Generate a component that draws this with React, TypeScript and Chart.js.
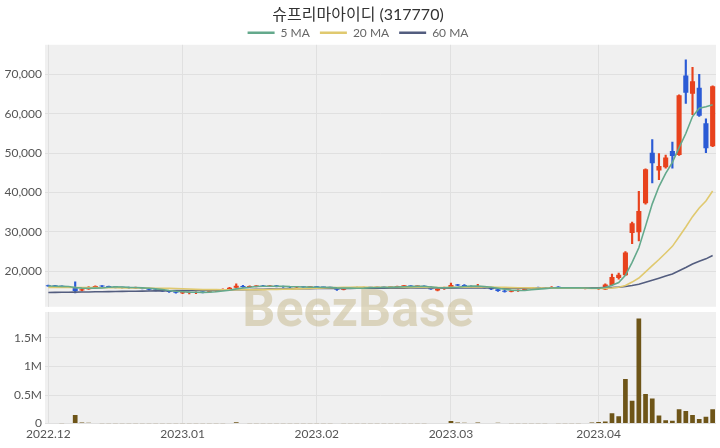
import React, { useEffect, useRef } from 'react';
import { Chart, registerables } from 'chart.js';

Chart.register(...registerables);

const TITLE = '슈프리마아이디 (317770)';
const WATERMARK = 'BeezBase';

// trading days
const DEC_DAYS = [2, 5, 6, 7, 8, 9, 12, 13, 14, 15, 16, 19, 20, 21, 22, 23, 26, 27, 28, 29];
const JAN_DAYS = [2, 3, 4, 5, 6, 9, 10, 11, 12, 13, 16, 17, 18, 19, 20, 25, 26, 27, 30, 31];
const FEB_DAYS = [1, 2, 3, 6, 7, 8, 9, 10, 13, 14, 15, 16, 17, 20, 21, 22, 23, 24, 27, 28];
const MAR_DAYS = [2, 3, 6, 7, 8, 9, 10, 13, 14, 15, 16, 17, 20, 21, 22, 23, 24, 27, 28, 29, 30, 31];
const APR_DAYS = [3, 4, 5, 6, 7, 10, 11, 12, 13, 14, 17, 18, 19, 20, 21, 24, 25, 26];

const pad = (n: number) => (n < 10 ? '0' + n : '' + n);
const DATES: string[] = [
  ...DEC_DAYS.map((d) => `2022-12-${pad(d)}`),
  ...JAN_DAYS.map((d) => `2023-01-${pad(d)}`),
  ...FEB_DAYS.map((d) => `2023-02-${pad(d)}`),
  ...MAR_DAYS.map((d) => `2023-03-${pad(d)}`),
  ...APR_DAYS.map((d) => `2023-04-${pad(d)}`),
];

const OPENS = [
  16400, 16300, 16200, 16050, 15900, 15100, 15400, 16000, 16200, 16100,
  16000, 15850, 15800, 15700, 15800, 15550, 15300, 15100, 14900, 14700,
  14400, 14500, 14450, 14700, 14650, 14900, 15200, 15400, 15800, 16200,
  16000, 16150, 16250, 16100, 16300, 16100, 16000, 15900, 16000, 15900,
  15950, 15900, 15850, 15800, 15300, 15700, 15850, 15750, 15900, 15800,
  15950, 15850, 16000, 16200, 16250, 16150, 16200, 16050, 15100, 15500,
  15900, 16500, 16400, 16250, 16000, 16100, 15800, 15400, 15000, 14800,
  15050, 15200, 15600, 15750, 15700, 15650, 16000, 15800, 15750, 15700,
  15650, 15700, 15500, 15350, 16500, 18300, 19000, 29700, 29900, 37250,
  50100, 45600, 46400, 50500, 49500, 69700, 65100, 66600, 57600, 51750,
];
const CLOSES = [
  16200, 16200, 16050, 15900, 15000, 15400, 16000, 16200, 16100, 16000,
  15850, 15800, 15750, 15900, 15550, 15300, 15100, 14900, 14700, 14550,
  14650, 14600, 14700, 14600, 14900, 15200, 15400, 15800, 16300, 16000,
  16200, 16250, 16150, 16300, 16100, 16000, 15900, 16000, 15900, 15950,
  15900, 15850, 15800, 15300, 15700, 15850, 15750, 15900, 15800, 15950,
  15850, 16000, 16200, 16250, 16150, 16200, 16050, 15400, 15500, 15900,
  16500, 16400, 16250, 16000, 16100, 15800, 15400, 15000, 14800, 15050,
  15200, 15600, 15750, 15700, 15650, 16000, 15800, 15750, 15700, 15650,
  15700, 15600, 15800, 16600, 18500, 19100, 24750, 32200, 35300, 45900,
  47400, 46750, 48900, 49250, 64700, 65300, 68250, 59500, 51200, 67000,
];
const HIGHS = [
  16500, 16400, 16300, 16150, 17300, 15500, 16100, 16300, 16350, 16250,
  16100, 16000, 15950, 16000, 15900, 15700, 15400, 15200, 15000, 14800,
  14750, 14700, 14750, 14800, 15000, 15250, 15500, 15900, 16800, 16400,
  16300, 16350, 16400, 16350, 16400, 16200, 16100, 16100, 16100, 16050,
  16100, 16000, 15950, 15850, 15800, 15900, 15950, 15950, 16000, 16000,
  16050, 16050, 16250, 16350, 16350, 16300, 16300, 16100, 15600, 16000,
  17000, 16700, 16600, 16300, 16700, 16150, 15900, 15500, 15200, 15150,
  15300, 15700, 15850, 16000, 15900, 16100, 16100, 15900, 15850, 15800,
  15800, 15850, 15900, 16800, 19250, 19500, 25000, 32500, 40300, 46000,
  53400, 49900, 49500, 52800, 64800, 73700, 71750, 70000, 58700, 67100,
];
const LOWS = [
  16150, 16100, 15950, 15800, 14500, 15000, 15350, 15900, 16000, 15900,
  15750, 15700, 15650, 15650, 15500, 15200, 15000, 14800, 14600, 14450,
  14300, 14250, 14300, 14500, 14600, 14850, 15100, 15350, 15750, 15900,
  15950, 16000, 16100, 16050, 16000, 15900, 15800, 15850, 15850, 15800,
  15800, 15750, 15700, 15150, 15250, 15600, 15700, 15700, 15750, 15750,
  15800, 15800, 15950, 16100, 16100, 16050, 16000, 15350, 15000, 15400,
  15800, 16300, 16200, 15950, 15950, 15700, 15300, 14900, 14700, 14750,
  14900, 15150, 15500, 15600, 15550, 15600, 15750, 15650, 15600, 15550,
  15500, 15550, 15400, 15300, 16400, 18000, 18900, 27000, 27700, 37000,
  42400, 43250, 46200, 46150, 49400, 62600, 59750, 59300, 50100, 51600,
];
const VOLUMES = [
  12000, 9000, 8000, 10000, 150000, 20000, 15000, 10000, 8000, 7000,
  6000, 5000, 6000, 7000, 5000, 6000, 8000, 7000, 6000, 5000,
  6000, 5000, 7000, 5000, 6000, 6000, 7000, 9000, 25000, 12000,
  8000, 7000, 6000, 7000, 6000, 5000, 5000, 6000, 5000, 5000,
  5000, 5000, 6000, 12000, 8000, 6000, 5000, 5000, 6000, 5000,
  5000, 6000, 7000, 6000, 5000, 5000, 6000, 9000, 10000, 12000,
  45000, 20000, 15000, 12000, 18000, 9000, 12000, 14000, 10000, 8000,
  7000, 8000, 6000, 6000, 5000, 9000, 6000, 5000, 5000, 8000,
  12000, 20000, 30000, 35000, 180000, 130000, 780000, 400000, 1840000, 520000,
  440000, 140000, 60000, 50000, 250000, 220000, 150000, 80000, 120000, 250000,
];

// moving-average values for the days before a full window exists
const MA5_EARLY = [16250, 16200, 16150, 16100];
const MA20_EARLY = [
  15900, 15890, 15880, 15870, 15860, 15850, 15840, 15830, 15820, 15810,
  15800, 15780, 15760, 15740, 15720, 15700, 15680, 15660, 15640,
];
const MA60_EARLY = [
  14600, 14620, 14650, 14670, 14700, 14720, 14740, 14770, 14800, 14820,
  14850, 14870, 14900, 14920, 14950, 14970, 15000, 15020, 15040, 15060,
  15080, 15100, 15120, 15150, 15170, 15200, 15230, 15260, 15290, 15320,
  15350, 15380, 15410, 15440, 15470, 15500, 15520, 15540, 15560, 15580,
  15600, 15610, 15620, 15630, 15640, 15650, 15660, 15670, 15680, 15690,
  15700, 15700, 15710, 15710, 15720, 15720, 15720, 15720, 15720,
];

const PRICE_TICKS = [20000, 30000, 40000, 50000, 60000, 70000];
const VOLUME_TICKS = [0, 500000, 1000000, 1500000];

const UP = '#e8421d';
const DOWN = '#2b5bd5';
const VOL_COLOR = '#6e5518';
const MA5_COLOR = '#64a98c';
const MA20_COLOR = '#e0c96f';
const MA60_COLOR = '#535d7f';
const PLOT_BG = '#f0f0f0';
const GRID = '#e0e0e0';
const GAP = 5;

function movingAverage(src: number[], n: number, early: number[]) {
  return src.map((_, i) => {
    if (i < n - 1) return early[i];
    let s = 0;
    for (let k = i - n + 1; k <= i; k++) s += src[k];
    return s / n;
  });
}

const panelPlugin = {
  id: 'panels',
  beforeDraw(chart: any) {
    const { ctx, chartArea } = chart;
    const p = chart.scales.y;
    const v = chart.scales.y2;
    ctx.save();
    ctx.fillStyle = PLOT_BG;
    ctx.fillRect(chartArea.left, p.top, chartArea.right - chartArea.left, p.bottom - p.top - GAP / 2);
    ctx.fillRect(chartArea.left, v.top + GAP / 2, chartArea.right - chartArea.left, v.bottom - v.top - GAP / 2);
    ctx.restore();
  },
  beforeDatasetsDraw(chart: any) {
    const { ctx, chartArea } = chart;
    const p = chart.scales.y;
    ctx.save();
    ctx.fillStyle = '#ffffff';
    ctx.fillRect(chartArea.left, p.bottom - GAP / 2, chartArea.right - chartArea.left, GAP);
    ctx.font = 'bold 52px Roboto';
    ctx.textAlign = 'center';
    ctx.textBaseline = 'alphabetic';
    ctx.fillStyle = 'rgba(200, 188, 145, 0.55)';
    ctx.fillText(WATERMARK, chart.width / 2 - 2, p.bottom + 17);
    ctx.restore();
  },
};

export default function App() {
  const ref = useRef<HTMLCanvasElement>(null);
  useEffect(() => {
    document.body.style.margin = '0';
    const colors = OPENS.map((o, i) => (CLOSES[i] >= o ? UP : DOWN));
    const ma5 = movingAverage(CLOSES, 5, MA5_EARLY);
    const ma20 = movingAverage(CLOSES, 20, MA20_EARLY);
    const ma60 = movingAverage(CLOSES, 60, MA60_EARLY);
    const font = { family: "Lato, 'Noto Sans CJK KR', sans-serif", size: 12 };
    const chart = new Chart(ref.current as HTMLCanvasElement, {
      type: 'bar',
      data: {
        labels: DATES,
        datasets: [
          { type: 'line', label: '5 MA', data: ma5, borderColor: MA5_COLOR, backgroundColor: MA5_COLOR, borderWidth: 1.6, pointRadius: 0, yAxisID: 'y' } as any,
          { type: 'line', label: '20 MA', data: ma20, borderColor: MA20_COLOR, backgroundColor: MA20_COLOR, borderWidth: 1.6, pointRadius: 0, yAxisID: 'y' } as any,
          { type: 'line', label: '60 MA', data: ma60, borderColor: MA60_COLOR, backgroundColor: MA60_COLOR, borderWidth: 1.6, pointRadius: 0, yAxisID: 'y' } as any,
          { type: 'bar', label: 'body', data: OPENS.map((o, i) => [o, CLOSES[i]]), backgroundColor: colors, barPercentage: 0.76, categoryPercentage: 1, grouped: false, minBarLength: 1, yAxisID: 'y' } as any,
          { type: 'bar', label: 'wick', data: LOWS.map((l, i) => [l, HIGHS[i]]), backgroundColor: colors, barThickness: 1.5, grouped: false, yAxisID: 'y' } as any,
          { type: 'bar', label: 'volume', data: VOLUMES, backgroundColor: VOL_COLOR, barPercentage: 0.7, categoryPercentage: 1, grouped: false, yAxisID: 'y2' } as any,
        ],
      },
      options: {
        responsive: false,
        animation: false,
        devicePixelRatio: 1,
        layout: { padding: { left: 0, right: 4, top: 0, bottom: 4 } },
        plugins: {
          tooltip: { enabled: false },
          title: {
            display: true,
            text: TITLE,
            color: '#333333',
            font: { family: "Lato, 'Noto Sans CJK KR', sans-serif", size: 16, weight: 'normal' },
            padding: { top: 5, bottom: -7.4 },
          },
          legend: {
            display: true,
            maxHeight: 28,
            labels: {
              color: '#666666',
              font,
              boxWidth: 27,
              boxHeight: 2.5,
              padding: 10,
              generateLabels: (c: any) =>
                (Chart.defaults.plugins.legend.labels as any)
                  .generateLabels(c)
                  .filter((l: any) => l.datasetIndex < 3)
                  .map((l: any) => ({ ...l, lineWidth: 0 })),
            },
          },
        },
        scales: {
          x: {
            type: 'category',
            offset: true,
            grid: { color: GRID, offset: false, drawTicks: false },
            border: { display: false },
            afterBuildTicks: (s: any) => {
              s.ticks = DATES.map((d, i) => i)
                .filter((i) => i === 0 || DATES[i].slice(0, 7) !== DATES[i - 1].slice(0, 7))
                .map((i) => ({ value: i }));
            },
            ticks: {
              autoSkip: false,
              maxRotation: 0,
              color: '#555555',
              font,
              padding: 3,
              callback: (v: any) => DATES[v].slice(0, 4) + '.' + DATES[v].slice(5, 7),
            },
          },
          y: {
            type: 'linear',
            position: 'left',
            stack: 'panels',
            stackWeight: 266.5,
            weight: 2,
            min: 10300,
            max: 77500,
            grid: { color: GRID, drawTicks: false },
            border: { display: false },
            afterBuildTicks: (s: any) => {
              s.ticks = PRICE_TICKS.map((v) => ({ value: v }));
            },
            afterFit: (s: any) => {
              s.width = 45;
            },
            ticks: {
              color: '#555555',
              font,
              padding: 3,
              callback: (v: any) => Number(v).toLocaleString('en-US'),
            },
          },
          y2: {
            type: 'linear',
            position: 'left',
            stack: 'panels',
            stackWeight: 115,
            weight: 1,
            min: 0,
            max: 2000000,
            grid: { color: GRID, drawTicks: false },
            border: { display: false },
            afterBuildTicks: (s: any) => {
              s.ticks = VOLUME_TICKS.map((v) => ({ value: v }));
            },
            afterFit: (s: any) => {
              s.width = 45;
            },
            ticks: {
              color: '#555555',
              font,
              padding: 3,
              callback: (v: any) => (Number(v) === 0 ? '0' : Number(v) / 1000000 + 'M'),
            },
          },
        },
      } as any,
      plugins: [panelPlugin],
    });
    return () => chart.destroy();
  }, []);
  return (
    <div style={{ width: 720, height: 448 }}>
      <canvas ref={ref} width={720} height={448} style={{ display: 'block' }} />
    </div>
  );
}
